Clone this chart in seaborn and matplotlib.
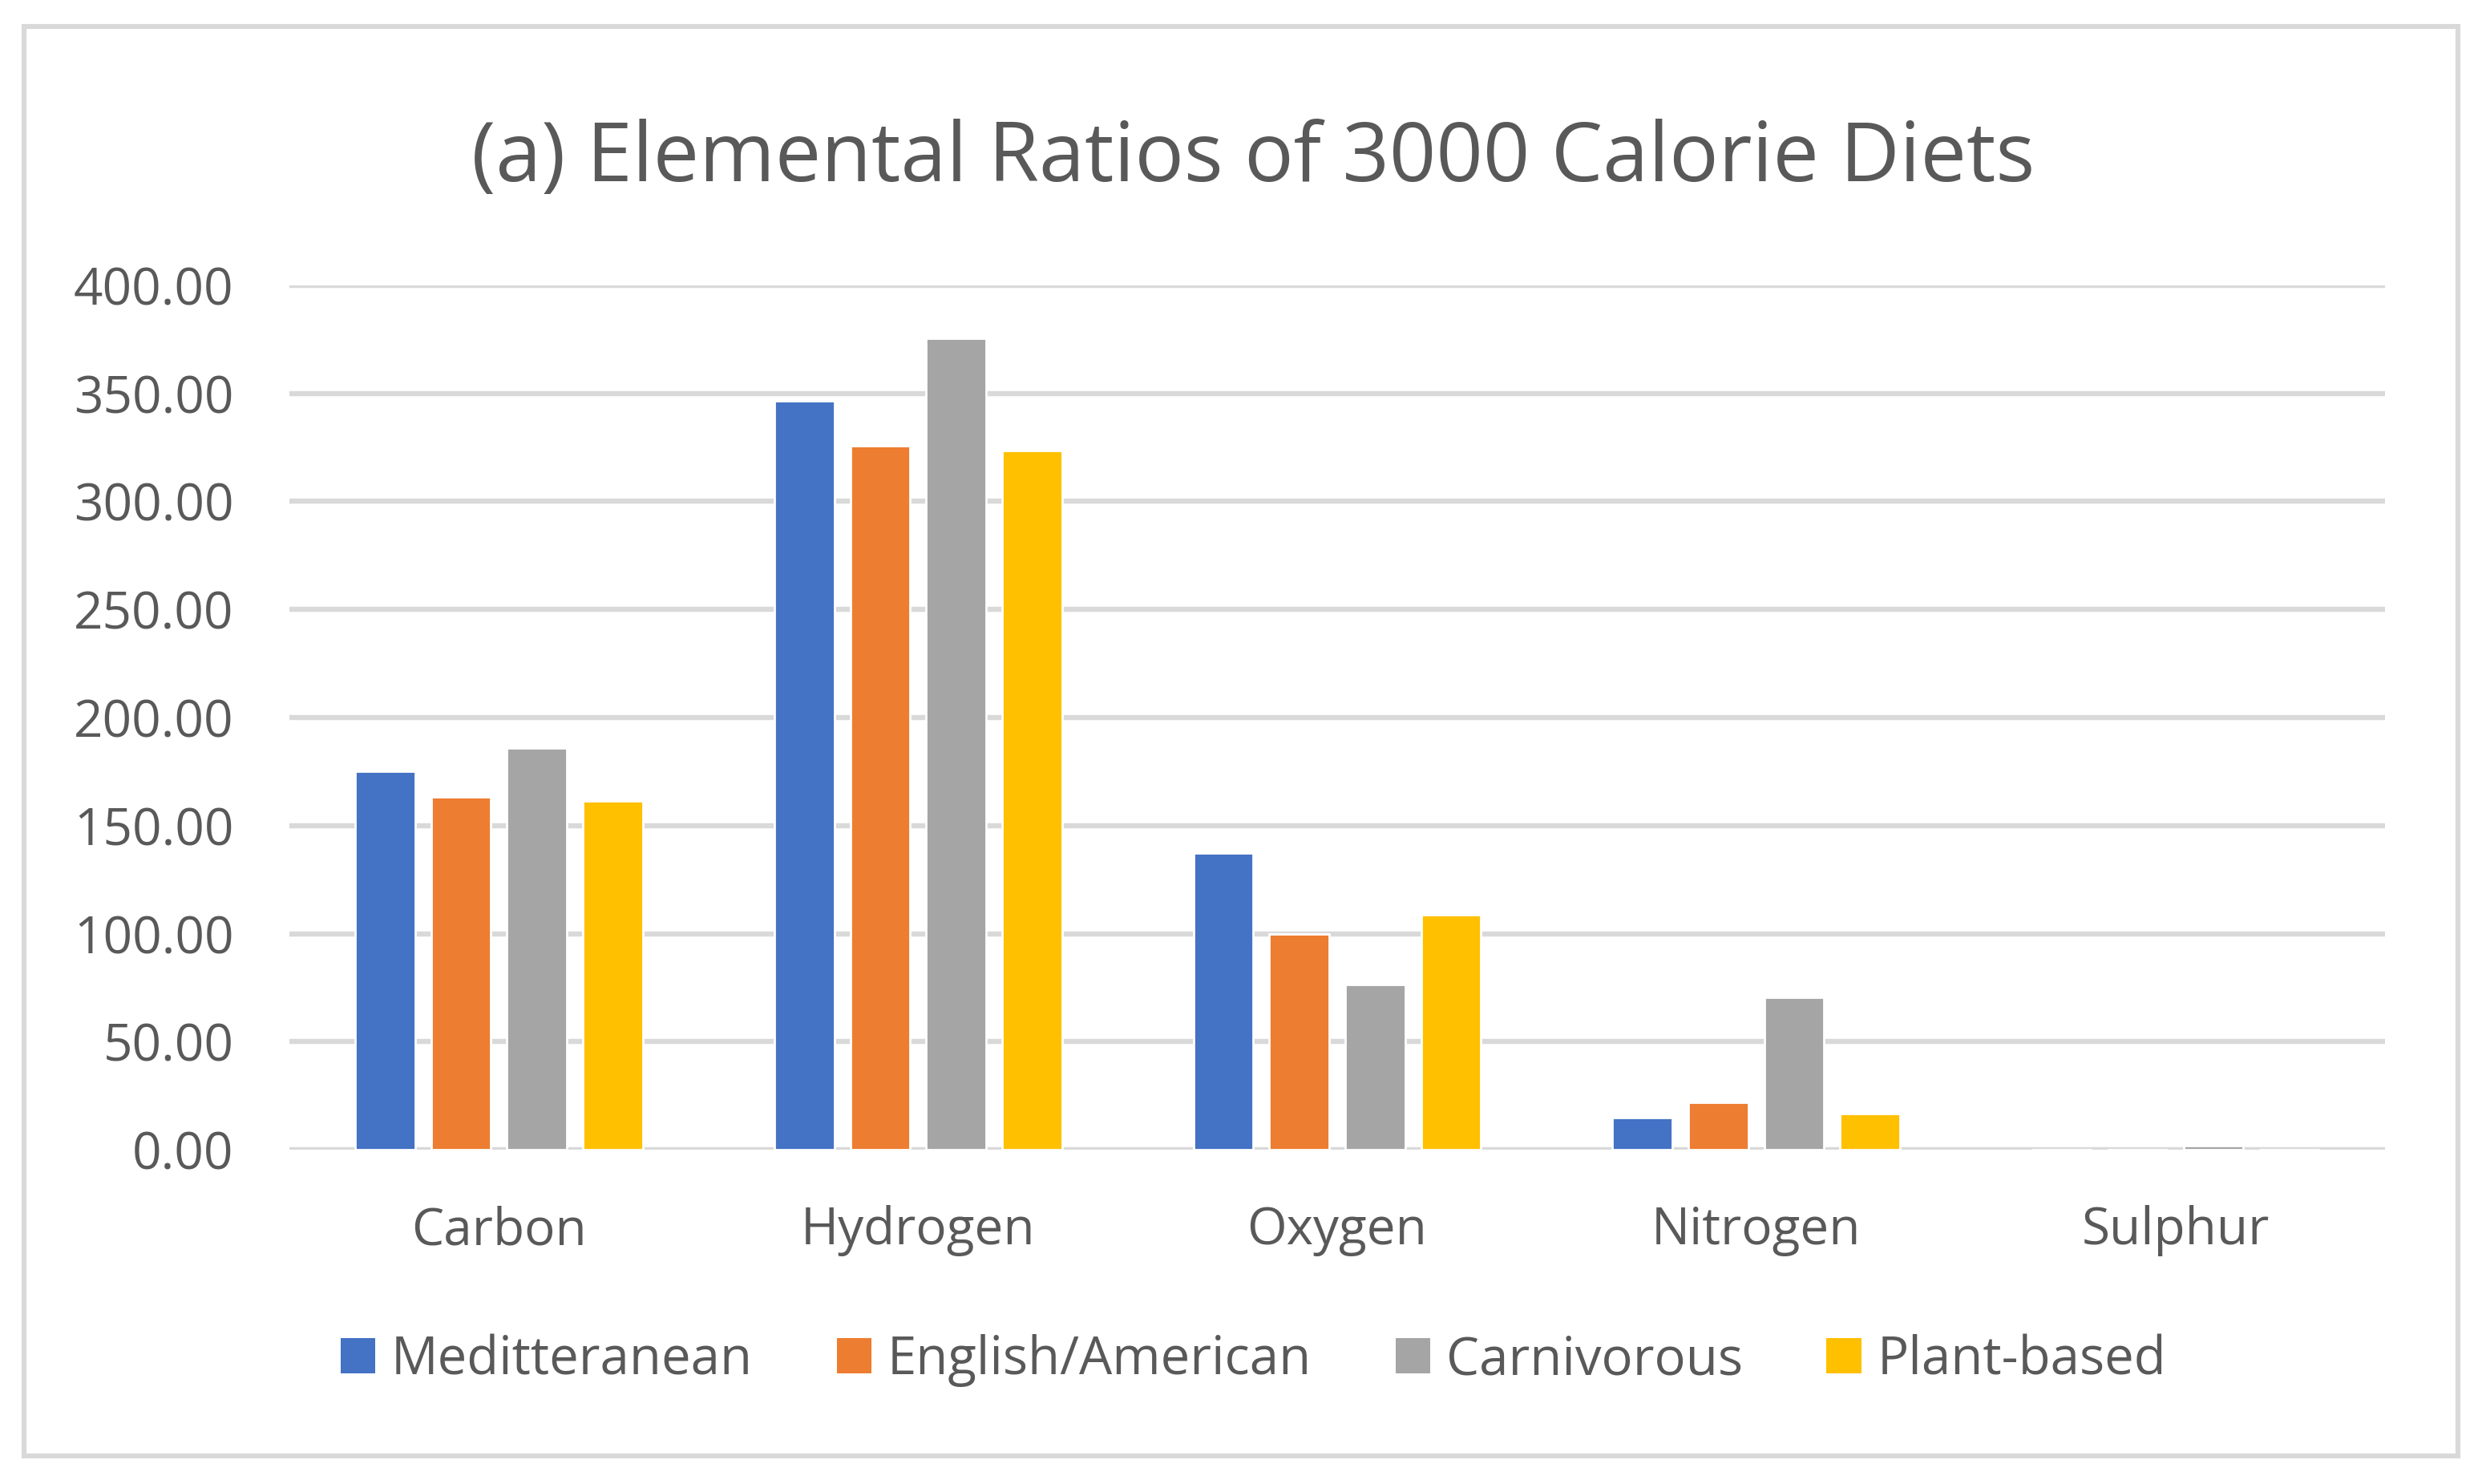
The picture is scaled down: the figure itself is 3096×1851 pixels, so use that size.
import pandas as pd
import matplotlib
matplotlib.use('Agg')
import matplotlib.pyplot as plt
from matplotlib.patches import Patch, Rectangle
import seaborn as sns

# values
elements = ["Carbon", "Hydrogen", "Oxygen", "Nitrogen", "Sulphur"]
diets = ["Meditteranean", "English/American", "Carnivorous", "Plant-based"]
mediterranean = [175.1, 346.6, 137.3, 14.8, 0.0]
english_american = [163.3, 325.8, 100.0, 21.9, 0.0]
carnivorous = [185.9, 375.5, 76.4, 70.5, 1.9]
plant_based = [161.4, 323.6, 108.7, 16.7, 0.0]
yticks = [0, 50, 100, 150, 200, 250, 300, 350, 400]
colors = ["#4472C4", "#ED7D31", "#A5A5A5", "#FFC000"]

df = pd.DataFrame({
    "element": elements * 4,
    "diet": [d for d in diets for _ in elements],
    "value": mediterranean + english_american + carnivorous + plant_based,
})

sns.set_style("white")
plt.rcParams['font.family'] = ['Open Sans', 'DejaVu Sans']
text_col = "#595959"
grid_col = "#D9D9D9"

fig = plt.figure(figsize=(15.48, 9.255), dpi=200)
ax = fig.add_axes([361 / 3096, 1 - 1434 / 1851, (2975 - 361) / 3096, (1434 - 356) / 1851])

sns.barplot(data=df, x="element", y="value", hue="diet", order=elements,
            hue_order=diets, palette=colors, width=0.724, gap=0.21,
            saturation=1, legend=False, ax=ax)

ax.set_xlim(-0.5, 4.5)
ax.set_ylim(0, 400)
ax.set_yticks(yticks)
ax.set_yticklabels([f"{v:.2f}" for v in yticks])
ax.set_axisbelow(True)
ax.yaxis.grid(True, color=grid_col, linewidth=2.3)
ax.xaxis.grid(False)
for s in ax.spines.values():
    s.set_visible(False)
ax.tick_params(axis='y', length=0, pad=25, labelsize=23, labelcolor=text_col)
ax.tick_params(axis='x', length=0, pad=25, labelsize=23, labelcolor=text_col)
ax.set_xlabel("")
ax.set_ylabel("")

fig.text(0.505, 1 - 199 / 1851, "(a) Elemental Ratios of 3000 Calorie Diets",
         ha='center', va='center', fontsize=36.8, color=text_col)

handles = [Patch(facecolor=c, edgecolor='none', label=d) for c, d in zip(colors, diets)]
leg = fig.legend(handles=handles, loc='center', bbox_to_anchor=(0.505, 1 - 1697 / 1851),
                 ncol=4, frameon=False, fontsize=23.5, handlelength=0.67, handleheight=0.67,
                 handletextpad=0.3, columnspacing=1.6)
for t in leg.get_texts():
    t.set_color(text_col)

fig.patches.append(Rectangle((30 / 3096, 1 - 1816 / 1851), (3066 - 30) / 3096, (1816 - 33) / 1851,
                             transform=fig.transFigure, fill=False, edgecolor=grid_col, linewidth=2.2))

fig.savefig("out.png", dpi=200, facecolor="white")
